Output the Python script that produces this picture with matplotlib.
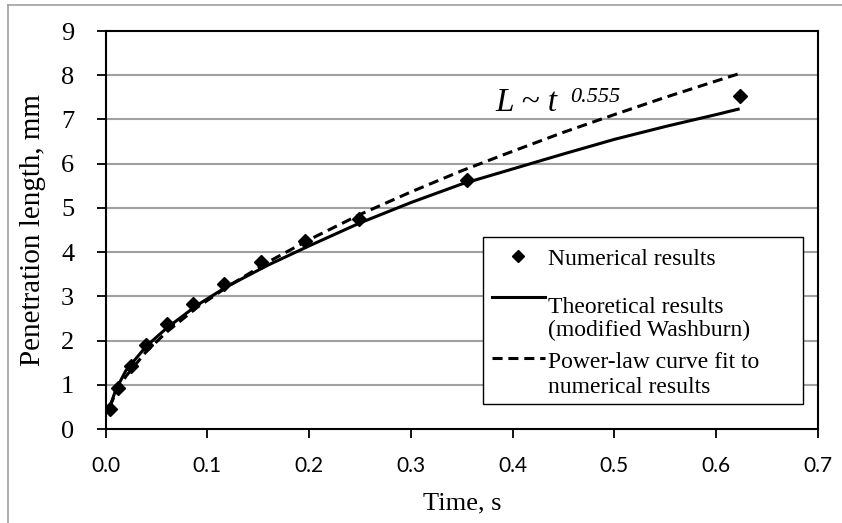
import matplotlib
matplotlib.use("Agg")
import matplotlib.pyplot as plt
from matplotlib.lines import Line2D
from matplotlib.patches import Rectangle

# ---- data ----
t_num = [0.0044, 0.0126, 0.0247, 0.0398, 0.060, 0.086, 0.116, 0.153, 0.196, 0.249, 0.355, 0.623]
L_num = [0.45, 0.92, 1.43, 1.91, 2.37, 2.82, 3.29, 3.77, 4.24, 4.74, 5.64, 7.52]

t_theory = [0.003, 0.01, 0.02, 0.04, 0.06, 0.09, 0.12, 0.16, 0.2, 0.25, 0.3, 0.35, 0.4, 0.45, 0.5, 0.55, 0.6, 0.623]
L_theory = [0.42, 0.88, 1.32, 1.87, 2.28, 2.80, 3.23, 3.71, 4.14, 4.66, 5.12, 5.54, 5.88, 6.22, 6.55, 6.84, 7.11, 7.24]

t_fit = [0.004, 0.01, 0.02, 0.04, 0.06, 0.09, 0.12, 0.16, 0.2, 0.25, 0.3, 0.35, 0.4, 0.45, 0.5, 0.55, 0.6, 0.623]
L_fit = [0.50, 0.81, 1.19, 1.75, 2.19, 2.75, 3.22, 3.78, 4.28, 4.85, 5.36, 5.84, 6.28, 6.71, 7.11, 7.50, 7.87, 8.04]

x_ticks = [0.0, 0.1, 0.2, 0.3, 0.4, 0.5, 0.6, 0.7]
x_ticklabels = ["0.0", "0.1", "0.2", "0.3", "0.4", "0.5", "0.6", "0.7"]
y_ticks = [0, 1, 2, 3, 4, 5, 6, 7, 8, 9]

legend_labels = ["Numerical results",
                 "Theoretical results\n(modified Washburn)",
                 "Power-law curve fit to\nnumerical results"]

SERIF = ["Liberation Serif", "DejaVu Serif"]
SANS = ["Lato", "DejaVu Sans"]

W, H = 842, 523
fig = plt.figure(figsize=(W / 100, H / 100), dpi=100)
fig.patch.set_facecolor("white")

def fx(px):
    return px / W

def fy(py):
    return 1 - py / H

# outer grey frame (only top and left visible in the reference)
fig.add_artist(Line2D([fx(8), fx(8)], [fy(5), 0], color="#A0A0A0", lw=1.2))
fig.add_artist(Line2D([fx(8), 1], [fy(5), fy(5)], color="#A0A0A0", lw=1.2))

x0, x1, ytop, ybot = 105.5, 818, 31, 429
ax = fig.add_axes([fx(x0), fy(ybot), fx(x1 - x0), (ybot - ytop) / H])

ax.set_xlim(0, 0.7)
ax.set_ylim(0, 9)
ax.set_xticks(x_ticks)
ax.set_xticklabels(x_ticklabels, fontfamily=SANS, fontsize=15)
ax.set_yticks(y_ticks)
ax.set_yticklabels([str(v) for v in y_ticks], fontfamily=SERIF, fontsize=19)

for v in y_ticks[1:-1]:
    ax.axhline(v, color="#A0A0A0", lw=1.5, zorder=0)

for s in ax.spines.values():
    s.set_color("black")
    s.set_linewidth(1.5)

ax.tick_params(axis="both", direction="out", length=6.5, width=1.3, color="black")
ax.tick_params(axis="x", pad=13)
ax.tick_params(axis="y", pad=16)

ax.plot(t_theory, L_theory, color="black", lw=2.2, solid_capstyle="butt", zorder=3)
ax.plot(t_fit, L_fit, color="black", lw=2.2, linestyle=(0, (3.3, 1.9)), zorder=3)
ax.plot(t_num, L_num, linestyle="none", marker="D", ms=7, color="black", zorder=4)

# annotation
ax.text(0.3826, 7.18, "L ~ t", fontfamily=SERIF, style="italic", fontsize=24,
        ha="left", va="baseline")
ax.text(0.456, 7.40, "0.555", fontfamily=SERIF, style="italic", fontsize=16,
        ha="left", va="baseline")

# axis titles
fig.text(fx(33), fy(230), "Penetration length, mm", rotation=90, ha="center", va="center",
         fontfamily=SERIF, fontsize=21)
fig.text(fx(462), fy(503), "Time, s", ha="center", va="center",
         fontfamily=SERIF, fontsize=19)

# legend (drawn manually in axes coordinates)
def ax_x(px):
    return (px - x0) / (x1 - x0)

def ax_y(py):
    return (ybot - py) / (ybot - ytop)

ax.add_patch(Rectangle((ax_x(483), ax_y(404)), ax_x(803) - ax_x(483), ax_y(237) - ax_y(404),
                       transform=ax.transAxes, facecolor="white", edgecolor="black",
                       lw=1.0, zorder=5))
ax.add_line(Line2D([ax_x(518)], [ax_y(256)], transform=ax.transAxes, marker="D", ms=6,
                   color="black", linestyle="none", zorder=6))
ax.add_line(Line2D([ax_x(492), ax_x(545)], [ax_y(297), ax_y(297)], transform=ax.transAxes,
                   color="black", lw=2.2, zorder=6))
ax.add_line(Line2D([ax_x(492), ax_x(545)], [ax_y(358), ax_y(358)], transform=ax.transAxes,
                   color="black", lw=2.2, linestyle=(0, (3.3, 1.9)), zorder=6))

leg_lines = [(legend_labels[0], 265),
             (legend_labels[1].split("\n")[0], 313),
             (legend_labels[1].split("\n")[1], 336),
             (legend_labels[2].split("\n")[0], 368),
             (legend_labels[2].split("\n")[1], 393)]
for txt, base in leg_lines:
    ax.text(ax_x(548), ax_y(base), txt, transform=ax.transAxes, fontfamily=SERIF,
            fontsize=17, ha="left", va="baseline", zorder=6)

fig.savefig("out.png", dpi=100)
